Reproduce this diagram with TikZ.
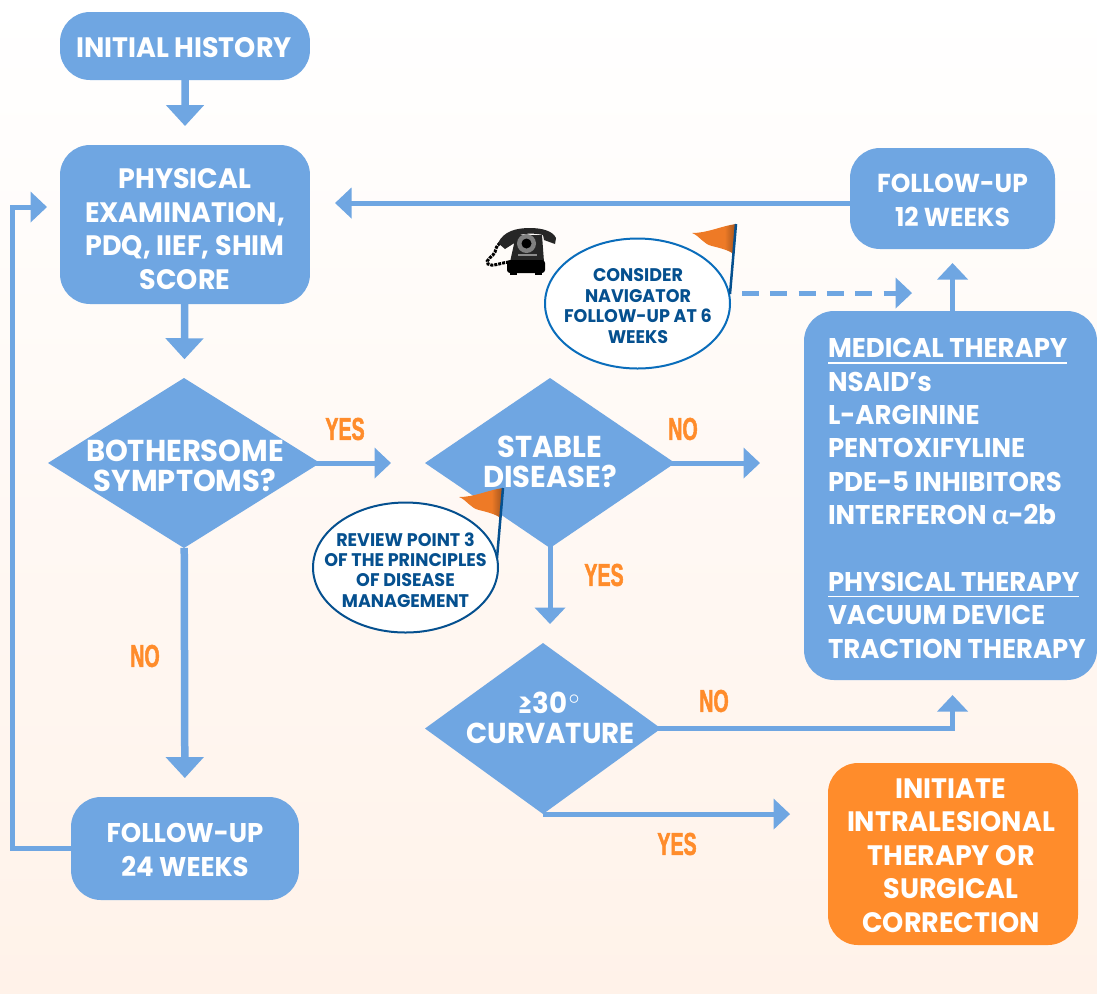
\documentclass[tikz,border=0pt]{standalone}
\usepackage{fontspec}
\usepackage{tikz}
\usetikzlibrary{shapes.geometric,arrows.meta}
\setmainfont[FakeStretch=0.96]{Poppins}
\newfontfamily\greekfont{Lato}
\newfontfamily\answerfont[FakeStretch=0.62,BoldFeatures={FakeBold=1.5}]{Liberation Sans}
\definecolor{boxblue}{HTML}{6FA6E2}
\definecolor{boxorange}{HTML}{FF8C2B}
\definecolor{notenavy}{HTML}{05508F}
\definecolor{noteline}{HTML}{0A6DBB}
\definecolor{paper}{HTML}{FFF2E9}
\definecolor{flaglight}{HTML}{EE7A26}
\definecolor{flagdark}{HTML}{A5561E}
\pgfdeclarehorizontalshading{flagshade}{100bp}{color(0bp)=(flaglight);color(62bp)=(flaglight);color(74bp)=(flagdark);color(88bp)=(flaglight);color(100bp)=(flaglight!80!white)}
\tikzset{
  flagmark/.pic={
    \shade[shading=flagshade] (0,0) .. controls (-1.5,-0.2) and (-2.8,-0.9) .. (-4.4,-0.9)
      .. controls (-3.6,-1.2) and (-3.3,-2) .. (-2.4,-2.2) .. controls (-1.6,-2.4) and (-0.8,-2.6) .. (-0.2,-3) -- cycle;
    \draw[notenavy,line width=0.25mm] (0,0) -- (-0.6,-7);
  }
}
\begin{document}
\begin{tikzpicture}[scale=0.1]
\tikzstyle{every node}+=[inner sep=0pt,outer sep=0pt]
\tikzstyle{flowbox}=[fill=boxblue,rounded corners=3mm]
\tikzstyle{flowtext}=[text=white,align=center,font=\fontsize{7.7}{9.5}\selectfont\bfseries]
\tikzstyle{widetext}=[flowtext,font=\fontsize{8}{9.5}\selectfont\bfseries]
\tikzstyle{decision}=[diamond,fill=boxblue]
\tikzstyle{decisiontext}=[text=white,align=center,font=\fontsize{8.6}{8.7}\selectfont\bfseries]
\tikzstyle{note}=[ellipse,fill=white,draw=noteline,line width=0.2mm,minimum width=18.5cm/10,minimum height=13cm/10]
\tikzstyle{notetext}=[text=notenavy,align=center,font=\fontsize{5.2}{5.8}\selectfont\bfseries]
\tikzstyle{answer}=[text=boxorange,font=\fontsize{9}{9}\answerfont\bfseries]
\tikzstyle{bigflow}=[boxblue,line width=0.75mm,-{Triangle[width=3.7mm,length=2.1mm]}]
\tikzstyle{thinflow}=[boxblue,line width=0.5mm,-{Triangle[width=3mm,length=1.65mm]}]
\shade[top color=white,bottom color=paper] (0,0) rectangle (109.7,-99.3);
\useasboundingbox (0,0) rectangle (109.7,-99.3);
\node[flowbox,minimum width=25cm/10,minimum height=6.8cm/10] (init) at (18.5,-4.6) {};
\node[widetext] (inittext) at (18.4,-4.8) {INITIAL HISTORY};
\node[flowbox,minimum width=25cm/10,minimum height=15.9cm/10] (exam) at (18.5,-22.45) {};
\node[widetext] (examtext) at (18.5,-22.9) {PHYSICAL\\EXAMINATION,\\PDQ, IIEF, SHIM\\SCORE};
\node[flowbox,minimum width=20.5cm/10,minimum height=10.1cm/10] (fuweeks) at (95.25,-19.85) {};
\node[flowtext,font=\fontsize{7.4}{9.5}\selectfont\bfseries] (fuweekstext) at (95.25,-20.05) {FOLLOW-UP\\12 WEEKS};
\node[flowbox,minimum width=29.3cm/10,minimum height=36.9cm/10] (medical) at (95.05,-49.55) {};
\node[flowtext,align=left,anchor=west] (medicaltext) at (82.8,-49.85) {\underline{MEDICAL THERAPY}\\NSAID’s\\L-ARGININE\\PENTOXIFYLINE\\PDE-5 INHIBITORS\\INTERFERON {\greekfont α}-2b\\[9.5pt]\underline{PHYSICAL THERAPY}\\VACUUM DEVICE\\TRACTION THERAPY};
\node[flowbox,minimum width=22.8cm/10,minimum height=10.3cm/10] (fulong) at (18.5,-84.85) {};
\node[flowtext] (fulongtext) at (18.5,-85) {FOLLOW-UP\\24 WEEKS};
\node[flowbox,fill=boxorange,minimum width=25cm/10,minimum height=18.2cm/10] (surgery) at (95.3,-85.4) {};
\node[widetext] (surgerytext) at (95.1,-85.55) {INITIATE\\INTRALESIONAL\\THERAPY OR\\SURGICAL\\CORRECTION};
\node[decision,minimum width=27.2cm/10,minimum height=17cm/10] (bother) at (18.4,-46.3) {};
\node[decisiontext] (bothertext) at (18.5,-46.6) {BOTHERSOME\\SYMPTOMS?};
\node[decision,minimum width=25cm/10,minimum height=17cm/10] (stable) at (55,-46.3) {};
\node[decisiontext] (stabletext) at (55,-46.2) {STABLE\\DISEASE?};
\node[decision,minimum width=23.6cm/10,minimum height=17.1cm/10] (curve) at (54.3,-72.85) {};
\node[decisiontext,font=\fontsize{8.2}{8.7}\selectfont\bfseries] (curvetext) at (55.05,-71.8) {≥30$^{\scriptscriptstyle\circ}$\\CURVATURE};
\node[note] (navigator) at (63.75,-30.35) {};
\node[notetext] (navigatortext) at (63.8,-30.6) {CONSIDER\\NAVIGATOR\\FOLLOW-UP AT 6\\WEEKS};
\node[note,draw=notenavy] (review) at (40.55,-56.75) {};
\node[notetext] (reviewtext) at (40.55,-57) {REVIEW POINT 3\\OF THE PRINCIPLES\\OF DISEASE\\MANAGEMENT};
\node[answer] (yesone) at (34.5,-42.9) {YES};
\node[answer] (noone) at (14.5,-65.6) {NO};
\node[answer] (yestwo) at (60.4,-57.5) {YES};
\node[answer] (notwo) at (68.3,-42.9) {NO};
\node[answer] (nothree) at (71.4,-70.1) {NO};
\node[answer] (yesthree) at (67.7,-84.4) {YES};
\coordinate (loopcorner) at (1.2,-20.7);
\coordinate (returnstart) at (85,-20.3);
\coordinate (dashstart) at (74.2,-29.3);
\draw[bigflow,shorten >=1.9mm] (init) -- (exam);
\draw[bigflow,shorten >=1.9mm] (exam) -- (bother);
\draw[bigflow,shorten >=1.9mm] (bother) -- (fulong);
\draw[thinflow,shorten <=-1mm] (bother.east) -- ++(7.1,0) coordinate (bothertip);
\draw[thinflow,shorten <=-1mm] (stable.east) -- ++(8.5,0) coordinate (stabletip);
\draw[thinflow,shorten <=-1mm] (stable.south) -- ++(0,-7.6) coordinate (stabledown);
\draw[thinflow,shorten >=2.5mm] (fuweeks.west |- returnstart) -- (exam.east |- returnstart);
\draw[thinflow,shorten >=1.3mm] (fulong.west) -| (loopcorner) -- (exam.west |- loopcorner);
\draw[thinflow,shorten >=1.4mm] (medical.north -| fuweeks.south) -- (fuweeks.south);
\draw[thinflow,dash pattern=on 1.7mm off 1.13mm,shorten >=3.85mm] (dashstart) -- (medical.north |- dashstart);
\draw[thinflow,shorten >=1.5mm,shorten <=-1mm] (curve.east) -| (medical.south -| fuweeks.south);
\draw[thinflow,shorten >=3.8mm] (curve.south) -- (curve.south -| surgery.west);
\pic[scale=0.1] at (73.6,-22.4) {flagmark};
\pic[scale=0.1] at (50.3,-48.8) {flagmark};
\begin{scope}[shift={(48,-22)}]
\draw[black,line width=0.3mm,dash pattern=on 0.3mm off 0.1mm] (2.9,-4.2) .. controls (2,-4.3) and (1.2,-4.7) .. (0.8,-4.4) .. controls (0.4,-4) and (1.4,-3.6) .. (1.5,-3.2) .. controls (1.6,-2.9) and (1.6,-2.6) .. (2,-2.3);
\fill[black!85] (1.8,-2.3) .. controls (2.4,-1.1) and (3.6,-0.8) .. (5,-0.8) .. controls (6.2,-0.8) and (7.3,-1.1) .. (7.6,-1.8) -- (7.5,-2.4) -- (6.4,-2) -- (6.3,-1.5) .. controls (5.5,-1.3) and (4.3,-1.3) .. (3.7,-1.6) -- (3.6,-2.2) -- (2.5,-2.9) -- cycle;
\fill[black!85] (3.6,-1.5) -- (6.2,-1.5) -- (6.4,-4.2) -- (3,-4.2) -- cycle;
\fill[black,rounded corners=0.3mm] (2.7,-4) rectangle (6.5,-5.3);
\fill[black] (3,-5.2) rectangle (3.7,-5.5);
\fill[black] (5.5,-5.2) rectangle (6.2,-5.5);
\fill[black!50] (4.65,-2.35) circle (0.95);
\fill[black] (4.65,-2.35) circle (0.5);
\fill[black!45] (3.8,-3.4) rectangle (5.7,-3.6);
\end{scope}
\end{tikzpicture}
\end{document}
